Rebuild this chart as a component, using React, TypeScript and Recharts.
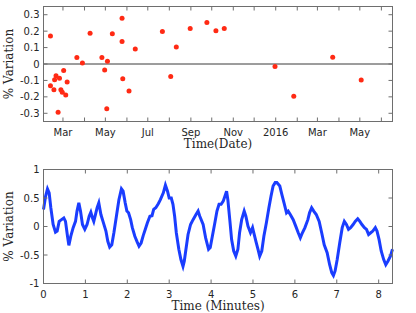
import { ScatterChart, Scatter, LineChart, Line, XAxis, YAxis, ReferenceLine } from "recharts";

// top panel: one point per measurement date
const visitDates = [
  "2015-02-11", "2015-02-11", "2015-02-16", "2015-02-17", "2015-02-19", "2015-02-22",
  "2015-02-24", "2015-02-26", "2015-02-28", "2015-03-02", "2015-03-05", "2015-03-07",
  "2015-03-21", "2015-03-29", "2015-04-09", "2015-04-26", "2015-04-30", "2015-05-03",
  "2015-05-04", "2015-05-11", "2015-05-25", "2015-05-25", "2015-05-26", "2015-06-04",
  "2015-06-13", "2015-07-22", "2015-08-03", "2015-08-11", "2015-08-31", "2015-09-24",
  "2015-10-07", "2015-10-19", "2015-12-31", "2016-01-27", "2016-03-23", "2016-05-03",
];
const visitVariation = [
  0.17, -0.133, -0.157, -0.096, -0.072, -0.294, -0.086, -0.157, -0.172, -0.039, -0.188, -0.11,
  0.039, 0.006, 0.187, 0.039, -0.037, -0.272, 0.016, 0.184, 0.279, 0.137, -0.09, -0.165,
  0.092, 0.198, -0.076, 0.104, 0.216, 0.253, 0.202, 0.216, -0.015, -0.196, 0.041, -0.098,
];
const dateRange = ["2015-02-01", "2016-06-17"];
const monthTicks = [
  "2015-03-01", "2015-04-01", "2015-05-01", "2015-06-01", "2015-07-01", "2015-08-01",
  "2015-09-01", "2015-10-01", "2015-11-01", "2015-12-01", "2016-01-01", "2016-02-01",
  "2016-03-01", "2016-04-01", "2016-05-01", "2016-06-01",
];
const monthNames = ["Jan", "Feb", "Mar", "Apr", "May", "Jun", "Jul", "Aug", "Sep", "Oct", "Nov", "Dec"];
const topYTicks = [-0.3, -0.2, -0.1, 0, 0.1, 0.2, 0.3];
const topYRange = [-0.35, 0.35];

// bottom panel: trace over ~8 minutes
const minutes = [
  0, 0.05, 0.095, 0.135, 0.175, 0.23, 0.286, 0.326, 0.374, 0.43, 0.485, 0.525, 0.573, 0.605,
  0.652, 0.708, 0.764, 0.8, 0.843, 0.883, 0.93, 0.986, 1.04, 1.09, 1.13, 1.17, 1.2, 1.24, 1.28,
  1.32, 1.37, 1.42, 1.49, 1.535, 1.58, 1.63, 1.68, 1.74, 1.8, 1.86, 1.9, 1.95, 1.99, 2.03, 2.08,
  2.12, 2.18, 2.235, 2.28, 2.33, 2.38, 2.43, 2.48, 2.54, 2.59, 2.63, 2.68, 2.74, 2.79, 2.86, 2.91,
  2.96, 3.0, 3.05, 3.09, 3.13, 3.17, 3.23, 3.28, 3.33, 3.36, 3.4, 3.45, 3.51, 3.57, 3.64, 3.69,
  3.73, 3.81, 3.87, 3.94, 3.98, 4.03, 4.09, 4.14, 4.19, 4.24, 4.29, 4.33, 4.37, 4.4, 4.45, 4.49,
  4.54, 4.59, 4.64, 4.68, 4.73, 4.79, 4.83, 4.88, 4.94, 4.99, 5.02, 5.07, 5.12, 5.16, 5.21, 5.26,
  5.32, 5.38, 5.43, 5.48, 5.53, 5.57, 5.64, 5.69, 5.75, 5.8, 5.84, 5.89, 5.96, 6.02, 6.08, 6.13,
  6.18, 6.24, 6.31, 6.35, 6.4, 6.45, 6.51, 6.58, 6.64, 6.7, 6.77, 6.83, 6.88, 6.92, 6.96, 7.01,
  7.07, 7.13, 7.18, 7.23, 7.28, 7.33, 7.39, 7.44, 7.5, 7.55, 7.6, 7.66, 7.71, 7.76, 7.81, 7.86,
  7.92, 7.96, 8.01, 8.06, 8.12, 8.17, 8.22, 8.28, 8.33,
];
const traceVariation = [
  0.3, 0.53, 0.66, 0.59, 0.33, 0.035, -0.1, -0.08, 0.09, 0.12, 0.15, 0.09, -0.17, -0.33,
  -0.17, -0.02, 0.09, 0.27, 0.415, 0.27, 0.035, -0.05, 0.035, 0.18, 0.25, 0.15, 0.09, 0.21, 0.33,
  0.415, 0.21, 0.09, -0.08, -0.26, -0.36, -0.32, -0.11, 0.18, 0.47, 0.66, 0.62, 0.415, 0.27, 0.24, 0.12,
  -0.02, -0.17, -0.27, -0.345, -0.29, -0.16, -0.05, 0.065, 0.18, 0.19, 0.3, 0.33, 0.4, 0.47, 0.59, 0.725,
  0.62, 0.5, 0.5, 0.39, 0.18, -0.11, -0.4, -0.58, -0.7, -0.61, -0.4, -0.14, 0.035, 0.12, 0.21, 0.27,
  0.18, 0.035, -0.2, -0.4, -0.37, -0.17, 0.065, 0.27, 0.39, 0.39, 0.445, 0.53, 0.62, 0.47, 0.09, -0.23,
  -0.43, -0.52, -0.4, -0.11, 0.12, 0.27, 0.18, 0.006, -0.11, -0.02, -0.11, -0.26, -0.4, -0.52, -0.43, -0.17,
  0.065, 0.33, 0.53, 0.71, 0.77, 0.77, 0.71, 0.56, 0.39, 0.24, 0.27, 0.21, 0.12, 0.006, -0.11, -0.2,
  -0.11, -0.02, 0.12, 0.24, 0.33, 0.27, 0.21, 0.09, -0.11, -0.32, -0.46, -0.67, -0.81, -0.86, -0.78, -0.58,
  -0.29, -0.02, 0.09, 0.035, -0.05, -0.02, 0.035, 0.09, 0.135, 0.09, 0.035, -0.02, -0.05, -0.14, -0.11, -0.08,
  -0.02, -0.08, -0.23, -0.43, -0.58, -0.67, -0.61, -0.52, -0.4,
];
const minuteTicks = [0, 1, 2, 3, 4, 5, 6, 7, 8];
const minuteRange = [0, 8.33];
const bottomYTicks = [-1, -0.5, 0, 0.5, 1];
const bottomYRange = [-1, 1];

const toMs = (d: string) => Date.parse(d + "T00:00:00Z");

const scatterData = visitDates.map((d, i) => ({ date: toMs(d), v: visitVariation[i] }));
const lineData = minutes.map((t, i) => ({ t, v: traceVariation[i] }));
const topX = [toMs(dateRange[0]), toMs(dateRange[1])];
const topXTicks = monthTicks.map(toMs);

const BOX = "#6e6e6e";
const TXT = "#262626";
const TICK_LEN = 4;
const labelFont = { fontSize: 12, fill: TXT, fontFamily: "DejaVu Serif" };

// plot boxes in chart pixels (they follow the margins / axis sizes below)
const W = 416;
const AXIS_W = 43.5;
const RIGHT = 23.5;
const topPlot = { left: AXIS_W, right: W - RIGHT, top: 6.5, bottom: 160 - 38.5 };
const botPlot = { left: AXIS_W, right: W - RIGHT, top: 19.5, bottom: 163 - 29.5 };

type Plot = typeof topPlot;

const fmtMonth = (ms: number) => {
  const d = new Date(ms);
  const m = d.getUTCMonth();
  if (m % 2 === 1) return "";
  return m === 0 ? String(d.getUTCFullYear()) : monthNames[m];
};
const fmtNum = (v: number) => String(v);

// bottom-axis tick: inward marks on bottom + top edge, label under the box
function XTick(props: any) {
  const { x, payload, plot, fmt } = props as { x: number; payload: any; plot: Plot; fmt: (v: number) => string };
  return (
    <g>
      <line x1={x} x2={x} y1={plot.bottom} y2={plot.bottom - TICK_LEN} stroke={BOX} />
      <line x1={x} x2={x} y1={plot.top} y2={plot.top + TICK_LEN} stroke={BOX} />
      <text x={x} y={plot.bottom + 14} textAnchor="middle" fontSize={10} fontFamily="DejaVu Sans" fill={TXT}>
        {fmt(payload.value)}
      </text>
    </g>
  );
}

// left-axis tick: inward marks on left + right edge; first tick also draws the box
function YTick(props: any) {
  const { y, payload, index, plot } = props as { y: number; payload: any; index: number; plot: Plot };
  return (
    <g>
      {index === 0 && (
        <rect x={plot.left} y={plot.top} width={plot.right - plot.left} height={plot.bottom - plot.top} fill="none" stroke={BOX} />
      )}
      <line x1={plot.left} x2={plot.left + TICK_LEN} y1={y} y2={y} stroke={BOX} />
      <line x1={plot.right} x2={plot.right - TICK_LEN} y1={y} y2={y} stroke={BOX} />
      <text x={plot.left - 4} y={y} dy="0.36em" textAnchor="end" fontSize={10} fontFamily="DejaVu Sans" fill={TXT}>
        {fmtNum(payload.value)}
      </text>
    </g>
  );
}

export default function App() {
  return (
    <div style={{ position: "absolute", left: 0, top: 0, width: 416, height: 313, background: "#fff" }}>
      <div style={{ position: "absolute", left: 0, top: 0 }}>
        <ScatterChart width={W} height={160} margin={{ top: topPlot.top, right: RIGHT, bottom: 0, left: 0 }}>
          <XAxis
            dataKey="date"
            type="number"
            domain={topX}
            ticks={topXTicks}
            interval={0}
            height={38.5}
            axisLine={false}
            tickLine={false}
            tick={(p: any) => <XTick {...p} plot={topPlot} fmt={fmtMonth} />}
            label={{ value: "Time(Date)", position: "insideTop", offset: 18, style: { ...labelFont, textAnchor: "middle" } }}
          />
          <YAxis
            dataKey="v"
            type="number"
            domain={topYRange}
            ticks={topYTicks}
            interval={0}
            width={AXIS_W}
            axisLine={false}
            tickLine={false}
            tick={(p: any) => <YTick {...p} plot={topPlot} />}
            label={{ value: "% Variation", angle: -90, position: "insideLeft", offset: 9, style: { ...labelFont, textAnchor: "middle" } }}
          />
          <ReferenceLine y={0} stroke="#3a3a3a" strokeWidth={1} />
          <Scatter
            data={scatterData}
            fill="#ff2a14"
            isAnimationActive={false}
            shape={(p: any) => <circle cx={p.cx} cy={p.cy} r={2.5} fill="#ff2a14" />}
          />
        </ScatterChart>
      </div>
      <div style={{ position: "absolute", left: 0, top: 150 }}>
        <LineChart width={W} height={163} data={lineData} margin={{ top: botPlot.top, right: RIGHT, bottom: 0, left: 0 }}>
          <XAxis
            dataKey="t"
            type="number"
            domain={minuteRange}
            ticks={minuteTicks}
            interval={0}
            height={29.5}
            axisLine={false}
            tickLine={false}
            tick={(p: any) => <XTick {...p} plot={botPlot} fmt={fmtNum} />}
            label={{ value: "Time (Minutes)", position: "insideTop", offset: 18, style: { ...labelFont, textAnchor: "middle" } }}
          />
          <YAxis
            type="number"
            domain={bottomYRange}
            ticks={bottomYTicks}
            interval={0}
            width={AXIS_W}
            axisLine={false}
            tickLine={false}
            tick={(p: any) => <YTick {...p} plot={botPlot} />}
            label={{ value: "% Variation", angle: -90, position: "insideLeft", offset: 9, style: { ...labelFont, textAnchor: "middle" } }}
          />
          <Line dataKey="v" type="linear" stroke="#1a3dff" strokeWidth={3} dot={false} isAnimationActive={false} />
        </LineChart>
      </div>
    </div>
  );
}
